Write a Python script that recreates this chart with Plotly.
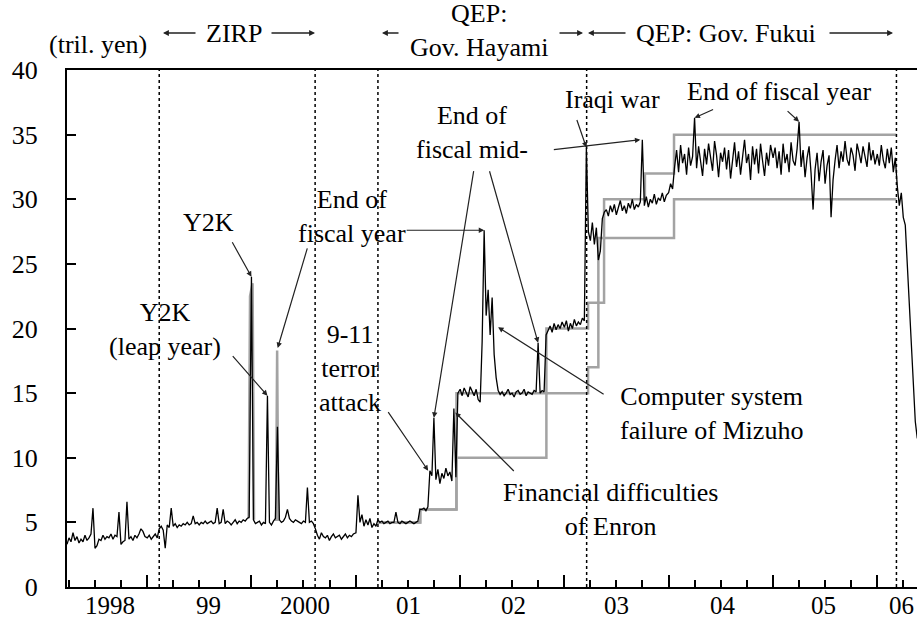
import pandas as pd
import plotly.graph_objects as go

# BOJ current account balances (tril. yen), weekly readings
cab_1998 = [3.3, 3.8, 3.5, 4.2, 3.6, 3.9, 3.4, 3.7, 3.5, 4.0, 3.6, 3.8, 4.1,
            6.1, 3.0, 3.2, 3.7, 3.6, 4.0, 3.7, 3.9, 3.8, 4.1, 3.7, 4.0, 3.9,
            5.8, 3.3, 3.5, 3.6, 6.6, 3.7, 3.9, 3.6, 4.0, 3.8, 4.1, 4.5, 4.3, 3.9]
cab_1999 = [3.8, 4.0, 3.7, 3.9, 4.1, 3.8,
            4.5, 4.7, 4.4, 3.0, 4.8, 4.6,
            6.1,
            4.7, 4.9, 4.6, 4.8, 4.7, 4.9, 4.8, 5.0,
            4.8, 4.9, 5.5,
            4.9, 5.0, 4.8, 5.0, 4.9, 5.1, 4.9, 5.0, 5.1, 4.9, 5.0,
            6.1, 4.9, 5.0, 6.0,
            4.9, 5.1, 5.0, 4.8, 5.0, 5.2, 4.9, 5.1, 5.0, 5.2, 5.1, 5.3, 5.4]
cab_2000 = [24.0,
            5.2, 4.9, 5.0, 5.1, 4.8, 5.0, 4.9,
            14.8,
            5.0, 4.8, 5.1, 5.3,
            12.4,
            5.2, 5.0, 5.1, 5.4, 6.0, 5.3, 5.1, 5.0, 5.2,
            5.1, 5.0, 4.9, 5.1, 5.0,
            7.7,
            5.0, 5.1, 4.9,
            4.5,
            4.0, 3.7, 4.2, 3.9, 3.8, 4.0, 3.6, 3.9, 4.1, 3.8, 3.9, 4.0, 3.7,
            3.9, 4.1, 3.8, 4.0, 3.9, 4.1]
cab_2001 = [4.2, 7.1,
            5.0, 5.6, 4.7, 5.2, 4.8, 5.3, 4.6, 4.9, 4.7,
            5.2,
            5.0, 5.1, 4.9, 5.0, 5.1, 4.9, 5.0, 5.0, 5.8, 5.0,
            4.9, 5.1, 5.0, 4.9, 5.0, 5.1, 5.0, 4.9, 5.0, 5.1,
            6.0, 6.0, 6.1, 5.9,
            6.2, 9.0, 8.6, 13.1,
            8.3, 9.1, 8.0, 8.8, 8.4, 9.2, 8.6, 8.9, 8.2,
            13.8, 8.5, 15.0]
cab_2002 = [15.3, 14.8, 15.4, 15.0, 14.7, 15.5, 15.1, 14.8, 15.3, 14.5, 14.3,
            19.0, 27.6, 21.0, 23.0, 19.5, 22.4, 18.0, 16.2,
            15.2, 14.9, 15.1, 14.8, 15.0, 15.3, 14.9, 15.0, 14.7, 15.1,
            15.2, 14.9, 15.0, 15.3, 14.8, 15.1, 15.0, 14.9, 15.2,
            15.1, 18.9, 15.0, 15.2, 15.1, 19.5,
            19.8, 20.2, 19.7, 20.4, 19.9, 20.3, 20.0, 20.5]
cab_2003 = [20.1, 20.6, 19.8, 20.4, 20.0, 20.7, 20.2, 20.5, 20.3, 20.8, 20.6,
            34.0, 27.5,
            26.8, 28.2, 26.5, 27.8, 25.3, 26.0, 28.5, 29.0,
            29.2, 28.7, 29.5, 29.0, 29.6, 28.8, 29.4, 29.9, 29.1, 29.5,
            28.9, 29.7, 29.3, 30.0, 29.2, 29.6, 29.4, 29.8,
            34.6,
            29.5, 30.2, 29.4, 30.0, 29.7, 30.4, 29.6, 30.1, 29.9, 30.5, 29.8, 30.3]
cab_2004 = [30.5, 31.2, 30.8, 32.5,
            33.8, 32.1, 34.2, 32.8, 33.5, 31.9, 34.0, 32.6, 33.3,
            36.3,
            32.4, 34.1, 33.0, 31.8, 33.9, 32.7, 34.3, 33.1, 32.2, 34.5,
            33.4, 31.7, 33.6, 32.9, 34.0, 32.3, 33.8, 31.6, 33.2, 34.4,
            32.5, 33.7, 31.9, 33.3, 34.6, 32.8, 33.5, 31.5, 34.1, 32.7,
            33.9, 32.0, 34.3, 33.0, 31.8, 33.6, 32.6, 34.2]
cab_2005 = [33.2, 34.0, 32.4, 33.7, 31.9, 34.3, 32.8, 33.5, 32.1, 34.4, 33.0, 32.6, 33.9,
            36.0,
            32.5, 33.8, 31.7, 33.2, 34.1, 32.0,
            29.2,
            32.3, 33.6, 31.4, 32.9, 33.8, 31.2, 32.6, 33.4,
            28.6,
            31.5, 33.0, 34.2, 32.4, 33.7, 32.9, 34.5, 33.1, 32.6, 34.0, 33.4,
            32.2, 34.3, 33.6, 32.8, 34.1, 33.2, 32.5, 34.4, 33.0, 33.8, 32.7]
cab_2006 = [33.5, 32.6, 34.2, 33.0, 32.4, 33.9, 32.8, 34.0, 32.1, 33.2,
            31.0, 29.5, 30.5, 28.6,
            28.0, 25.0, 21.5, 18.0, 15.0, 12.8, 11.5]

seg_starts = ["1998-03-26", "1999-01-01", "2000-01-01", "2001-01-01", "2002-01-01",
              "2003-01-01", "2004-01-01", "2005-01-01", "2006-01-01"]
segments = [cab_1998, cab_1999, cab_2000, cab_2001, cab_2002,
            cab_2003, cab_2004, cab_2005, cab_2006]

# operating targets (upper / lower bound)
target_dates = ["2001-03-19", "2001-08-14", "2001-12-19", "2002-10-30", "2003-03-25",
                "2003-04-30", "2003-05-20", "2003-10-10", "2004-01-20", "2006-03-09"]
target_upper = [5, 6, 15, 20, 22, 27, 30, 32, 35, 35]
target_lower = [5, 6, 10, 15, 17, 22, 27, 27, 30, 30]

# gray spikes around Y2K and end of FY1999
gray_dates = ["1999-12-22", "1999-12-27", "2000-01-05", "2000-01-10", None,
              "2000-03-27", "2000-03-31", "2000-04-04"]
gray_vals = [5.3, 22.5, 23.5, 5.2, None, 5.1, 18.3, 5.1]

policy_dates = ["1999-02-12", "2000-08-11", "2001-03-19", "2003-03-20", "2006-03-09"]

year_labels = ["1998", "99", "2000", "01", "02", "03", "04", "05", "06"]
year_label_pos = ["1998-08-25", "1999-08-03", "2000-07-05", "2001-07-05", "2002-07-08",
                  "2003-07-01", "2004-07-08", "2005-06-28", "2006-03-25"]

FONT = "Liberation Serif, Times New Roman, serif"
FS = 26
W, H = 917, 622
L, T, B = 67, 70, 35


def to_paper(px, py):
    return (px - L) / (W - L), (H - B - py) / (H - B - T)


dates, vals = [], []
for start, seg in zip(seg_starts, segments):
    dates += list(pd.date_range(start, periods=len(seg), freq="7D"))
    vals += seg

fig = go.Figure()
fig.add_trace(go.Scatter(x=target_dates, y=target_upper, mode="lines", line_shape="hv",
                         line=dict(color="#a3a3a3", width=2.5)))
fig.add_trace(go.Scatter(x=target_dates, y=target_lower, mode="lines", line_shape="hv",
                         line=dict(color="#a3a3a3", width=2.5)))
fig.add_trace(go.Scatter(x=gray_dates, y=gray_vals, mode="lines",
                         line=dict(color="#a3a3a3", width=2.5)))
fig.add_trace(go.Scatter(x=dates, y=vals, mode="lines",
                         line=dict(color="black", width=1.3)))

for d in policy_dates:
    fig.add_shape(type="line", xref="x", yref="paper", x0=d, x1=d, y0=0, y1=1,
                  line=dict(color="black", width=1.5, dash="dot"))

ann = []
# year labels under the axis
for lab, pos in zip(year_labels, year_label_pos):
    ann.append(dict(x=pos, y=0, xref="x", yref="paper", text=lab, showarrow=False,
                    font=dict(size=25), xanchor="center", yanchor="top", yshift=-3))

# text boxes inside the plot
notes = [
    ("Y2K", "1999-08-05", 28.2),
    ("Y2K<br>(leap year)", "1999-03-04", 19.9),
    ("End of<br>fiscal year", "2000-12-18", 28.7),
    ("9-11<br>terror<br>attack", "2000-12-11", 16.9),
    ("End of<br>fiscal mid-", "2002-02-12", 35.2),
    ("Iraqi war", "2003-06-20", 37.7),
    ("End of fiscal year", "2005-01-22", 38.3),
    ("Computer system<br>failure of Mizuho", "2004-06-01", 13.4),
    ("Financial difficulties<br>of Enron", "2003-06-10", 6.0),
]
for txt, x, y in notes:
    ann.append(dict(x=x, y=y, xref="x", yref="y", text=txt, showarrow=False,
                    align="center", xanchor="center", yanchor="middle"))

# pointers: tip (date, value) and tail offset in pixels
pointers = [
    ("2000-01-01", 24.0, -20, -36),
    ("2000-02-26", 14.8, -36, -41),
    ("2000-04-02", 18.5, 30, -101),
    ("2002-03-26", 27.6, -79, 0),
    ("2001-09-11", 9.0, -41, -60),
    ("2001-10-01", 13.1, 40, -248),
    ("2002-10-01", 18.9, -49, -173),
    ("2003-09-24", 34.6, -88, 10),
    ("2003-03-19", 34.0, -10, -29),
    ("2004-04-01", 36.3, 20, -9),
    ("2005-04-02", 36.0, -13, -12),
    ("2002-05-14", 20.1, 107, 68),
    ("2001-12-15", 13.5, 60, 60),
]
for x, y, ax, ay in pointers:
    ann.append(dict(x=x, y=y, xref="x", yref="y", ax=ax, ay=ay, text="",
                    showarrow=True, arrowhead=2, arrowsize=0.9, arrowwidth=1.2,
                    arrowcolor="#222"))

# header
for txt, px, py in [("(tril. yen)", 98, 45), ("ZIRP", 234, 33),
                    ("QEP:<br>Gov. Hayami", 479, 31), ("QEP: Gov. Fukui", 726, 33)]:
    xp, yp = to_paper(px, py)
    ann.append(dict(x=xp, y=yp, xref="paper", yref="paper", text=txt, showarrow=False,
                    xanchor="center", yanchor="middle"))

for tip, tail in [(163, 197), (315, 270), (382, 400), (583, 558), (588, 627), (893, 828)]:
    xp, yp = to_paper(tip, 33)
    ann.append(dict(x=xp, y=yp, xref="paper", yref="paper", ax=tail - tip, ay=0, text="",
                    showarrow=True, arrowhead=2, arrowsize=0.9, arrowwidth=1.3,
                    arrowcolor="#222"))

fig.update_layout(
    width=W, height=H,
    margin=dict(l=L, r=0, t=T, b=B),
    paper_bgcolor="white", plot_bgcolor="white",
    showlegend=False,
    font=dict(family=FONT, size=FS, color="black"),
    annotations=ann,
    xaxis=dict(type="date", range=["1998-03-26", "2006-05-20"],
               showline=True, linecolor="black", linewidth=2, mirror=True,
               showgrid=False, zeroline=False, showticklabels=False,
               tickmode="array",
               tickvals=[f"{y}-01-01" for y in range(1999, 2007)],
               ticks="inside", ticklen=12, tickwidth=1.5, tickcolor="black",
               minor=dict(dtick="M3", tick0="1998-01-01", ticks="inside",
                          ticklen=7, tickwidth=1.5, tickcolor="black")),
    yaxis=dict(range=[0, 40], tickvals=list(range(0, 45, 5)),
               showline=True, linecolor="black", linewidth=2,
               showgrid=False, zeroline=False,
               ticks="inside", ticklen=9, tickwidth=1.5, tickcolor="black",
               ticklabelstandoff=22),
)

fig.write_html("out.html", config={"displayModeBar": False},
               post_script="document.body.style.margin='0';")
